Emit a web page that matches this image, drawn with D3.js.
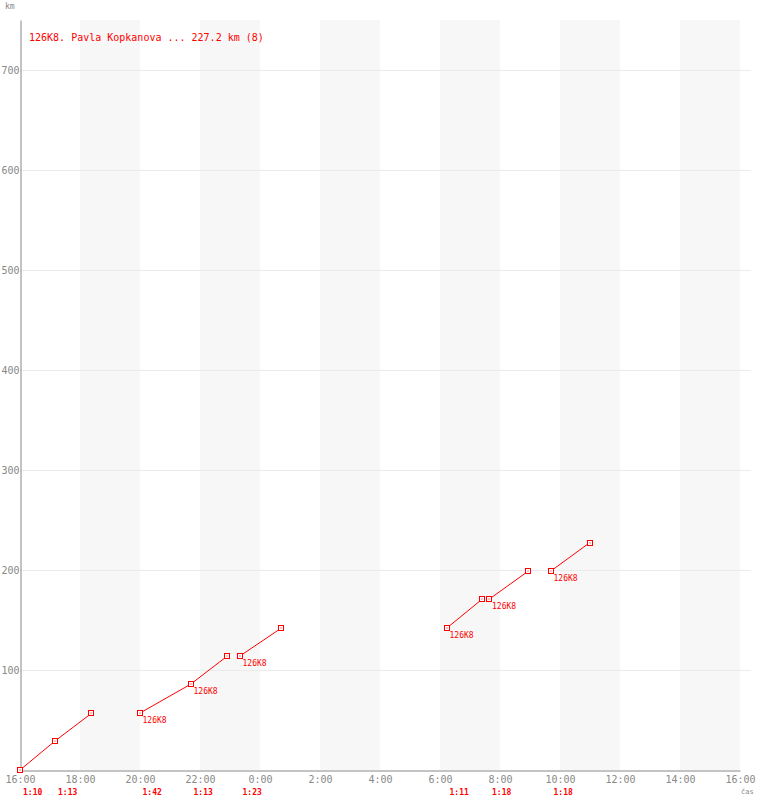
<!DOCTYPE html>
<html>
<head>
<meta charset="utf-8">
<script src="https://cdn.jsdelivr.net/npm/d3@7"></script>
<style>
body { margin: 0; background: #fff; }
text { font-family: "DejaVu Sans Mono", monospace; }
</style>
</head>
<body>
<svg id="chart"></svg>
<script>
// legs of the trip, times of day (start at 16:00, next day after midnight)
var legStart = ["16:00", "17:10", "19:59", "21:41", "23:19", "06:13", "07:38", "09:41"];
var legEnd   = ["17:10", "18:23", "21:41", "22:54", "00:42", "07:24", "08:56", "10:59"];
var kmStart  = [0, 29, 56.7, 85.7, 113.7, 141.7, 170.7, 198.7];
var kmEnd    = [29, 56.7, 85.7, 113.7, 141.7, 170.7, 198.7, 227.2];
var legTimes = ["1:10", "1:13", "1:42", "1:13", "1:23", "1:11", "1:18", "1:18"];
var legNames = ["", "", "126K8", "126K8", "126K8", "126K8", "126K8", "126K8"];
var yTicks   = [100, 200, 300, 400, 500, 600, 700];
var title    = "126K8. Pavla Kopkanova ... 227.2 km (8)";

var width = 760;
var height = 800;
var red = "#ff0000";

var parse = d3.timeParse("%Y-%m-%d %H:%M");
// times before 16:00 belong to the next day
function toDate(t) {
    var h = +t.split(":")[0];
    return parse((h < 16 ? "2000-01-02 " : "2000-01-01 ") + t);
}

var legs = legStart.map((s, i) => ({
    t0: toDate(s), t1: toDate(legEnd[i]),
    k0: kmStart[i], k1: kmEnd[i],
    dur: legTimes[i], name: legNames[i]
}));

var t0 = parse("2000-01-01 16:00");
var t1 = parse("2000-01-02 16:00");

var x = d3.scaleTime().domain([t0, t1]).range([20, 740]);
var y = d3.scaleLinear().domain([0, 750]).range([770, 20]);

var svg = d3.select("#chart")
    .attr("width", width)
    .attr("height", height);

// grey bands every other two hours
var bandStarts = d3.timeHour.every(4).range(t0, t1).map(d => d3.timeHour.offset(d, 2));
svg.selectAll(".band")
    .data(bandStarts)
    .enter()
    .append("rect")
        .attr("x", d => x(d))
        .attr("y", y(750))
        .attr("width", d => x(d3.timeHour.offset(d, 2)) - x(d))
        .attr("height", y(0) - y(750))
        .attr("fill", "#f7f7f7");

// horizontal grid
svg.selectAll(".grid")
    .data(yTicks)
    .enter()
    .append("line")
        .attr("x1", x(t0))
        .attr("x2", 751)
        .attr("y1", d => y(d) + 0.5)
        .attr("y2", d => y(d) + 0.5)
        .attr("stroke", "#ebebeb");

// axes
var xAxis = d3.axisBottom(x)
    .ticks(d3.timeHour.every(2))
    .tickFormat(d3.timeFormat("%-H:%M"))
    .tickSize(0)
    .tickPadding(5);

var gx = svg.append("g")
    .attr("transform", "translate(0," + (y(0) + 0.5) + ")")
    .call(xAxis);
gx.select(".domain").attr("stroke", "#888");
gx.selectAll("text").attr("fill", "#888").attr("font-size", 10).attr("font-family", "DejaVu Sans Mono");

var yAxis = d3.axisLeft(y)
    .tickValues(yTicks)
    .tickSize(0)
    .tickPadding(1);

var gy = svg.append("g")
    .attr("transform", "translate(" + (x(t0) + 0.5) + ",0)")
    .call(yAxis);
gy.select(".domain").attr("stroke", "#888");
gy.selectAll("text").attr("fill", "#888").attr("font-size", 10).attr("font-family", "DejaVu Sans Mono");

svg.append("text")
    .attr("x", 5).attr("y", 9)
    .attr("font-size", 8)
    .attr("fill", "#888")
    .text("km");

svg.append("text")
    .attr("x", 741).attr("y", 794)
    .attr("font-size", 7)
    .attr("fill", "#888")
    .text("čas");

// title
svg.append("text")
    .attr("x", 29).attr("y", 41)
    .attr("font-size", 10)
    .attr("fill", red)
    .text(title);

// legs
var g = svg.selectAll(".leg")
    .data(legs)
    .enter()
    .append("g")
        .classed("leg", true);

g.append("line")
    .attr("x1", d => x(d.t0))
    .attr("y1", d => y(d.k0))
    .attr("x2", d => x(d.t1))
    .attr("y2", d => y(d.k1))
    .attr("stroke", red)
    .attr("stroke-width", 1);

function marker(sel, fx, fy) {
    sel.append("rect")
        .attr("x", d => Math.round(fx(d)) - 2.5)
        .attr("y", d => Math.round(fy(d)) - 2.5)
        .attr("width", 5)
        .attr("height", 5)
        .attr("fill", "#fff")
        .attr("stroke", red);
    sel.append("rect")
        .attr("x", d => Math.round(fx(d)) - 0.5)
        .attr("y", d => Math.round(fy(d)) - 0.5)
        .attr("width", 1)
        .attr("height", 1)
        .attr("fill", red);
}
marker(g, d => x(d.t0), d => y(d.k0));
marker(g, d => x(d.t1), d => y(d.k1));

g.append("text")
    .attr("x", d => x(d.t0) + 3)
    .attr("y", d => y(d.k0) + 10)
    .attr("font-size", 8)
    .attr("fill", red)
    .text(d => d.name);

g.append("text")
    .attr("x", d => x(d.t0) + 3)
    .attr("y", 795)
    .attr("font-size", 8)
    .attr("font-weight", "bold")
    .attr("fill", red)
    .text(d => d.dur);
</script>
</body>
</html>
